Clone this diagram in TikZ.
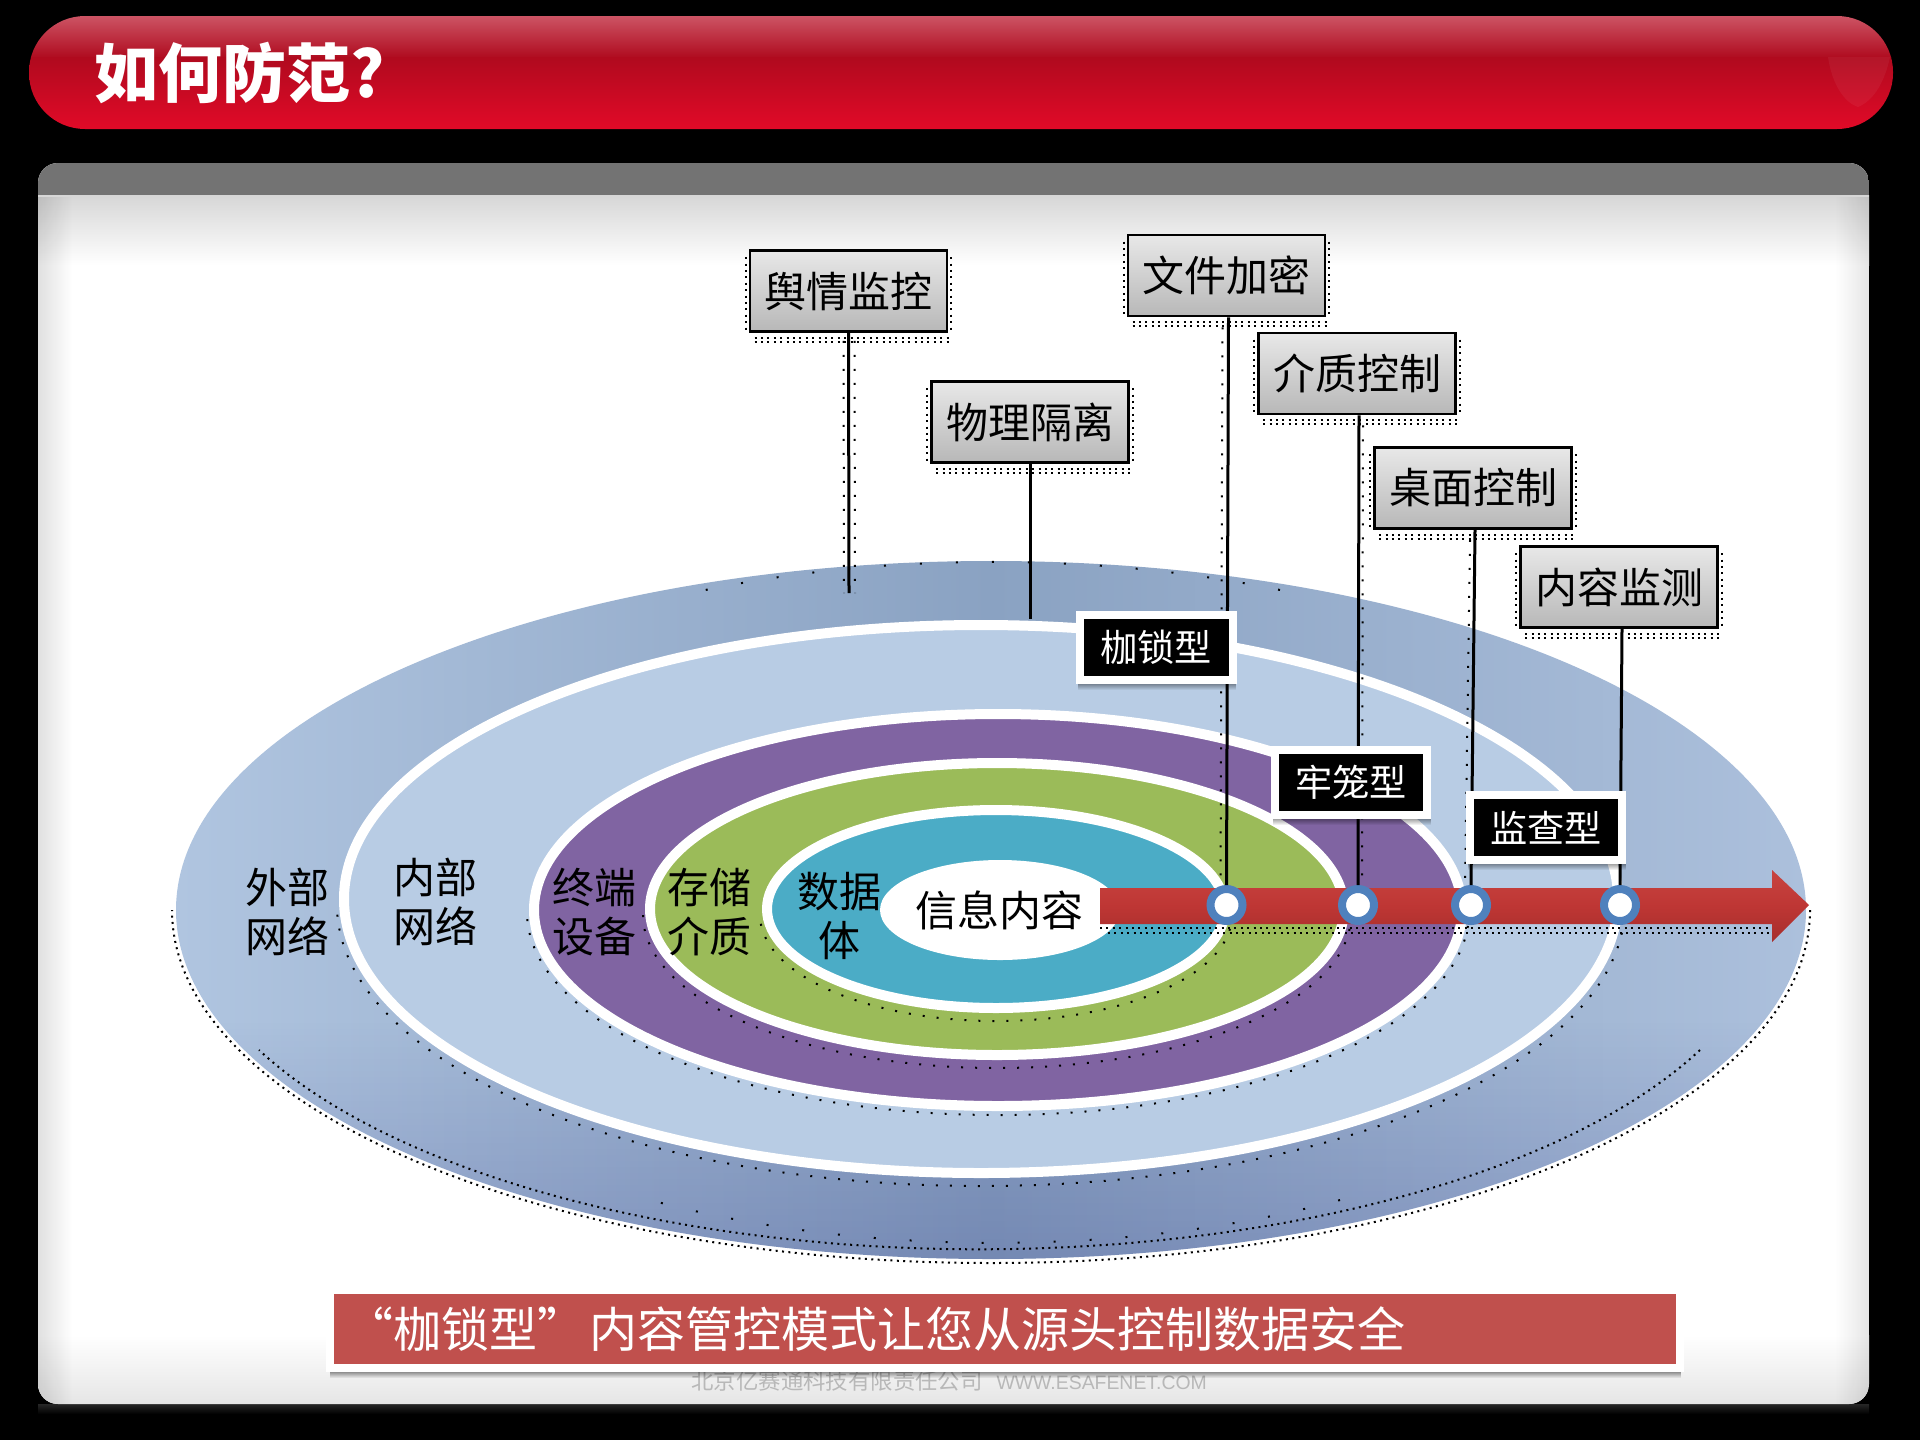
\documentclass[tikz,border=0pt]{standalone}
\usepackage{fontspec}
\setmainfont{Noto Sans CJK SC}
\newfontfamily\latinf{Liberation Sans}
\usetikzlibrary{calc,fadings}
\definecolor{ringblue}{HTML}{B8CCE4}
\definecolor{ringpurple}{HTML}{8064A2}
\definecolor{ringgreen}{HTML}{9BBB59}
\definecolor{ringteal}{HTML}{4BACC6}
\definecolor{barred}{HTML}{C0504D}
\definecolor{dotblue}{HTML}{4F81BD}
\newcommand{\fs}[1]{\fontsize{#1}{#1}\selectfont}
\tikzset{
  x=0.5pt,y=-0.5pt,
  ringedge/.style={draw=white,line width=5pt},
  greybox/.style={draw=black,line width=1.4pt,top color=black!9,bottom color=black!28,
    minimum width=98.5pt,minimum height=40.5pt,inner sep=0pt,font=\fs{21}},
  darkbox/.style={draw=white,line width=4pt,fill=black,text=white,
    minimum width=76.25pt,minimum height=32.5pt,inner sep=0pt,font=\fs{18.6}},
  ringtext/.style={align=center,text=black,inner sep=0pt,font=\fontsize{21}{24.5}\selectfont},
  conn/.style={draw=black,line width=1.5pt},
  hole/.style={circle,draw=dotblue,line width=4pt,fill=white,minimum size=16pt,inner sep=0pt},
  speck/.style={draw=black,line width=1pt,dash pattern=on 1pt off 2.2pt},
  sparse/.style={draw=black,line width=1pt,dash pattern=on 1pt off 6pt},
  rare/.style={draw=black,line width=1pt,dash pattern=on 1pt off 17pt},
}
\begin{document}
\begin{tikzpicture}
\useasboundingbox (0,0) rectangle (1920,1440);
\fill[black] (0,0) rectangle (1920,1440);
% header
\begin{scope}
  \clip[rounded corners=28pt] (29,16) rectangle (1893,129);
  \shade[top color={rgb,255:red,204;green,84;blue,100},bottom color={rgb,255:red,176;green,12;blue,32}] (29,16) rectangle (1893,57);
  \shade[top color={rgb,255:red,176;green,10;blue,30},bottom color={rgb,255:red,226;green,10;blue,40}] (29,57) rectangle (1893,130);
  \fill[white,opacity=.05] (1828,57) .. controls (1832,85) and (1845,103) .. (1858,107) .. controls (1875,100) and (1885,80) .. (1890,57) -- cycle;
\end{scope}
\node[anchor=west,text=white,inner sep=0pt,font=\fs{32}\bfseries] (title) at (94,73) {如何防范?};
% panel
\shade[top color=black!85,bottom color=black] (38,1404) rectangle (1869,1414);
\begin{scope}
  \clip[rounded corners=10pt] (38,163) rectangle (1869,1404);
  \fill[white] (38,163) rectangle (1869,1404);
  \fill[black!55] (38,163) rectangle (1869,195);
  \shade[top color=black!16,bottom color=white] (38,195) rectangle (1869,265);
  \shade[top color=white,bottom color=black!10] (38,1335) rectangle (1869,1404);
  \fill[black,opacity=.12,path fading=east] (38,195) rectangle (72,1404);
  \fill[black,opacity=.10,path fading=west] (1835,195) rectangle (1869,1404);
\end{scope}
% rings
\shade[left color={rgb,255:red,176;green,197;blue,224},right color={rgb,255:red,172;green,192;blue,220},middle color={rgb,255:red,138;green,162;blue,194}]
  (991,910) ellipse [x radius=815,y radius=349];
\begin{scope}
  \clip (991,910) ellipse [x radius=815,y radius=349];
  \fill[black!60!blue,opacity=.16,path fading=north] (150,1020) rectangle (1830,1265);
\end{scope}
\draw[speck] (1810,910) arc[start angle=0,end angle=180,x radius=819,y radius=353];
\draw[speck] (1700,1050) arc[start angle=25,end angle=155,x radius=795,y radius=345];
\draw[rare] (1280,590) arc[start angle=-65,end angle=-115,x radius=680,y radius=300];
\draw[rare] (1340,1200) arc[start angle=60,end angle=120,x radius=690,y radius=320];
\draw[ringedge,fill=ringblue] (981,899) ellipse [x radius=637,y radius=274];
\draw[sparse] (1625,905) arc[start angle=0,end angle=180,x radius=644,y radius=281];
\draw[ringedge,fill=ringpurple] (998,910) ellipse [x radius=464,y radius=196];
\draw[sparse] (1469,912) arc[start angle=0,end angle=180,x radius=471,y radius=203];
\draw[ringedge,fill=ringgreen] (997,909) ellipse [x radius=347,y radius=146];
\draw[sparse] (1351,915) arc[start angle=0,end angle=180,x radius=354,y radius=153];
\draw[ringedge,fill=ringteal] (996,909) ellipse [x radius=229,y radius=99];
\draw[sparse] (1232,915) arc[start angle=0,end angle=180,x radius=236,y radius=106];
\fill[white] (1000,910) ellipse [x radius=120,y radius=50];
% ring labels
\node[ringtext] (core) at (999,910) {信息内容};
\node[ringtext] (r1) at (287,912) {外部\\网络};
\node[ringtext] (r2) at (435,902) {内部\\网络};
\node[ringtext] (r3) at (594,912) {终端\\设备};
\node[ringtext] (r4) at (709,912) {存储\\介质};
\node[ringtext] (r5) at (839,916) {数据\\体};
% arrow
\shade[top color={rgb,255:red,200;green,68;blue,64},bottom color={rgb,255:red,166;green,46;blue,44},middle color={rgb,255:red,190;green,54;blue,52}]
  (1100,888) -- (1772,888) -- (1772,870) -- (1809,905) -- (1772,942) -- (1772,924) -- (1100,924) -- cycle;
\draw[speck] (1100,928) -- (1770,928);
\draw[speck] (1108,933) -- (1770,933);
% grey boxes
\node[greybox] (g1) at (848.5,291) {舆情监控};
\node[greybox] (g2) at (1030,422) {物理隔离};
\node[greybox] (g3) at (1226.5,275.5) {文件加密};
\node[greybox] (g4) at (1357,373.5) {介质控制};
\node[greybox] (g5) at (1473,488) {桌面控制};
\node[greybox] (g6) at (1619,587) {内容监测};
\foreach \n in {g1,g2,g3,g4,g5,g6}{
  \draw[speck] ($(\n.south west)+(6,5)$) -- ($(\n.south east)+(2,5)$);
  \draw[speck] ($(\n.south west)+(6,9)$) -- ($(\n.south east)+(2,9)$);
  \draw[speck] ($(\n.north west)+(-3,8)$) -- ($(\n.south west)+(-3,0)$);
  \draw[speck] ($(\n.north east)+(3,8)$) -- ($(\n.south east)+(3,0)$);
}
% connector ends
\coordinate (e1) at (849,593);
\coordinate (e2) at (1030,619);
\node[hole] (h1) at (1226.5,905) {};
\node[hole] (h2) at (1358,905) {};
\node[hole] (h3) at (1471,905) {};
\node[hole] (h4) at (1620,905) {};
\draw[sparse] ($(g1.south)+(-5,8)$) -- ($(e1)+(-5,0)$);
\draw[sparse] ($(g1.south)+(6,8)$) -- ($(e1)+(6,0)$);
\draw[sparse] ($(g3.south)+(-4,10)$) -- ($(h1.north)+(-6,0)$);
\draw[sparse] ($(g4.south)+(6,10)$) -- ($(h2.north)+(4,0)$);
\draw[sparse] ($(g5.south)+(-3,10)$) -- ($(h3.north)+(-6,0)$);
\draw[conn] (g1.south) -- (e1);
\draw[conn] (g2.south) -- (e2);
\draw[conn] ($(g3.south)+(2,0)$) -- (h1.north);
\draw[conn] ($(g4.south)+(2,0)$) -- (h2.north);
\draw[conn] ($(g5.south)+(2,0)$) -- (h3.north);
\draw[conn] ($(g6.south)+(3,0)$) -- (h4.north);
% dark labels
\foreach \cx/\cy in {1156.25/684,1351/819,1546/864}{
  \fill[black,opacity=.35,path fading=south] ({\cx-78},\cy) rectangle ({\cx+80},{\cy+6});
}
\node[darkbox] (d1) at (1156.25,647.5) {枷锁型};
\node[darkbox] (d2) at (1351,782.5) {牢笼型};
\node[darkbox] (d3) at (1546,827.5) {监查型};
% watermark
\node[anchor=west,text=black!28,inner sep=0pt,font=\fs{11.2}] (wm) at (691,1381) {北京亿赛通科技有限责任公司\hspace{7pt}{\latinf\fs{9.7}WWW.ESAFENET.COM}};
% bottom bar
\fill[black,opacity=.4,path fading=south] (331,1372) rectangle (1684,1378);
\node[draw=white,line width=4pt,fill=barred,minimum width=675pt,minimum height=39pt,inner sep=0pt] (bar) at (1005,1329) {};
\node[anchor=west,text=white,inner sep=0pt,font=\fs{24}] (bartext) at (345,1329) {“枷锁型”\hspace{2pt}内容管控模式让您从源头控制数据安全};
\end{tikzpicture}
\end{document}
